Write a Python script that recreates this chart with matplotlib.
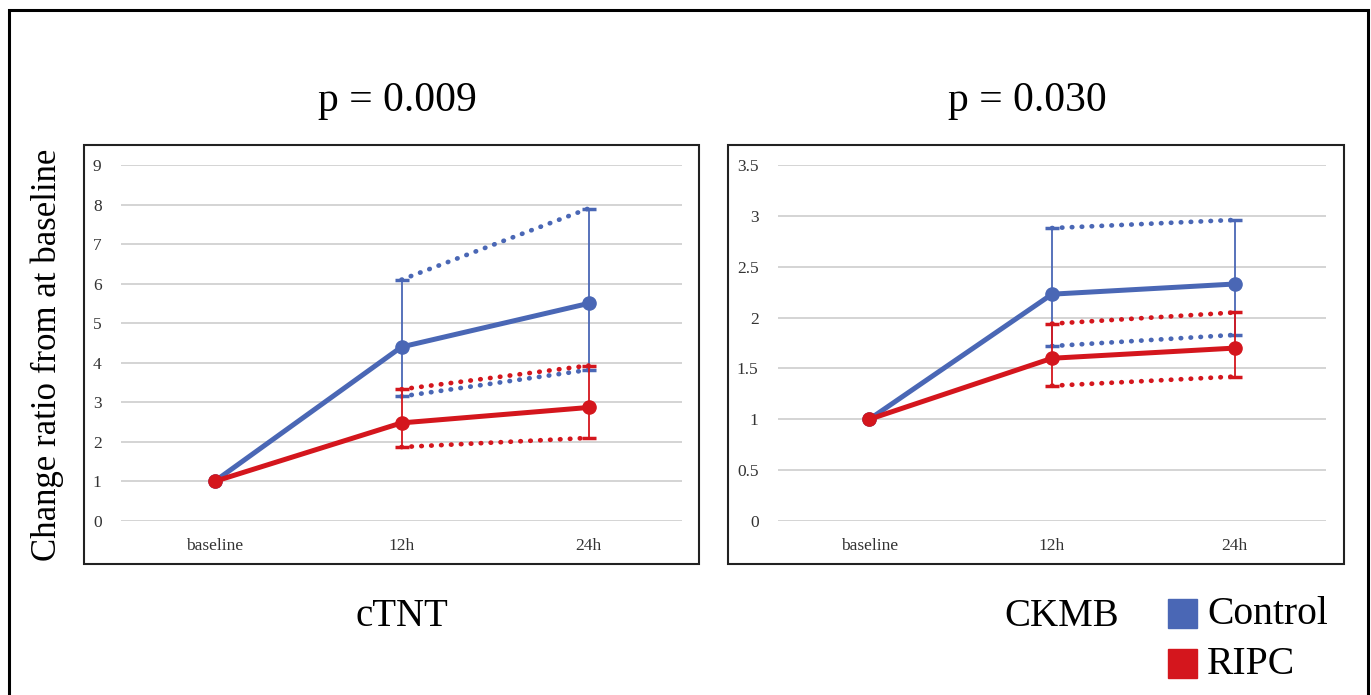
import matplotlib.pyplot as plt
from matplotlib.patches import Rectangle

plt.rcParams['font.family'] = ['Liberation Serif', 'DejaVu Serif']

categories = ['baseline', '12h', '24h']

# cTNT
ctnt_ctrl = [1.0, 4.4, 5.5]
ctnt_ctrl_hi = [1.0, 6.1, 7.9]
ctnt_ctrl_lo = [1.0, 3.15, 3.82]
ctnt_ripc = [1.0, 2.48, 2.87]
ctnt_ripc_hi = [1.0, 3.33, 3.93]
ctnt_ripc_lo = [1.0, 1.87, 2.1]

# CKMB
ckmb_ctrl = [1.0, 2.23, 2.33]
ckmb_ctrl_hi = [1.0, 2.88, 2.96]
ckmb_ctrl_lo = [1.0, 1.72, 1.83]
ckmb_ripc = [1.0, 1.6, 1.7]
ckmb_ripc_hi = [1.0, 1.94, 2.05]
ckmb_ripc_lo = [1.0, 1.33, 1.42]

p_values = ['p = 0.009', 'p = 0.030']
panel_names = ['cTNT', 'CKMB']
y_label = 'Change ratio from at baseline'

BLUE = '#4a67b5'
RED = '#d4161d'

W, H = 1371, 695
fig = plt.figure(figsize=(W / 100, H / 100), dpi=100)


def fx(px):
    return px / W


def fy(py):
    return 1 - py / H


def series(ax, mean, hi, lo, color, z):
    x = list(range(len(mean)))
    ax.plot(x, mean, color=color, lw=3.6, marker='o', ms=9.5, zorder=z + 2,
            solid_capstyle='round')
    err_lo = [m - l for m, l in zip(mean[1:], lo[1:])]
    err_hi = [h - m for m, h in zip(mean[1:], hi[1:])]
    ax.errorbar(x[1:], mean[1:], yerr=[err_lo, err_hi], fmt='none',
                ecolor=color, elinewidth=1.3, capsize=5, capthick=2.5, zorder=z)
    for band in (hi, lo):
        ax.plot(x[1:], band[1:], color=color, lw=3.4, ls=(0, (0.1, 2.0)),
                dash_capstyle='round', zorder=z + 1)


def panel(left_px, right_px, box, ymax, yticks, data, title, title_x):
    ax = fig.add_axes([fx(left_px), fy(521), fx(right_px - left_px), (521 - 165) / H])
    ctrl, ctrl_hi, ctrl_lo, ripc, ripc_hi, ripc_lo = data
    series(ax, ctrl, ctrl_hi, ctrl_lo, BLUE, 2)
    series(ax, ripc, ripc_hi, ripc_lo, RED, 5)
    ax.set_xlim(-0.5, 2.5)
    ax.set_ylim(0, ymax)
    ax.set_yticks(yticks)
    ax.set_yticklabels([f'{t:g}' for t in yticks])
    ax.set_xticks(range(len(categories)))
    ax.set_xticklabels(categories)
    ax.tick_params(length=0, labelsize=12.5, labelcolor='#333333')
    ax.tick_params(axis='x', pad=12)
    ax.tick_params(axis='y', pad=14)
    ax.grid(axis='y', color='#d4d4d4', lw=1.4)
    ax.set_axisbelow(True)
    for s in ax.spines.values():
        s.set_visible(False)
    ax.patch.set_alpha(0)
    x0, y0, x1, y1 = box
    fig.patches.append(Rectangle((fx(x0), fy(y1)), fx(x1 - x0), (y1 - y0) / H,
                                 transform=fig.transFigure, fill=False,
                                 ec='#222222', lw=1.5))
    fig.text(fx(title_x), fy(101), title, fontsize=30, ha='center', va='center')
    return ax


panel(121, 682, (84, 145, 699, 564), 9, list(range(10)),
      (ctnt_ctrl, ctnt_ctrl_hi, ctnt_ctrl_lo, ctnt_ripc, ctnt_ripc_hi, ctnt_ripc_lo),
      p_values[0], 397)
panel(778, 1326, (728, 145, 1344, 564), 3.5, [0, 0.5, 1, 1.5, 2, 2.5, 3, 3.5],
      (ckmb_ctrl, ckmb_ctrl_hi, ckmb_ctrl_lo, ckmb_ripc, ckmb_ripc_hi, ckmb_ripc_lo),
      p_values[1], 1027)

fig.text(fx(47), fy(355), y_label, fontsize=25, rotation=90, ha='center', va='center')
fig.text(fx(402), fy(617), panel_names[0], fontsize=28, ha='center', va='center')
fig.text(fx(1062), fy(617), panel_names[1], fontsize=28, ha='center', va='center')

# legend
for label, color, yc in (('Control', BLUE, 614), ('RIPC', RED, 664)):
    fig.patches.append(Rectangle((fx(1168), fy(yc + 14)), fx(29), 29 / H,
                                 transform=fig.transFigure, color=color))
    fig.text(fx(1207), fy(yc), label, fontsize=28.5, ha='left', va='center')

# outer frame (bottom edge outside picture)
fig.patches.append(Rectangle((fx(9), fy(H + 20)), fx(1368 - 9), (H + 20 - 10) / H,
                             transform=fig.transFigure, fill=False, ec='black',
                             lw=2.2, clip_on=False))

fig.savefig('out.png', dpi=100)
